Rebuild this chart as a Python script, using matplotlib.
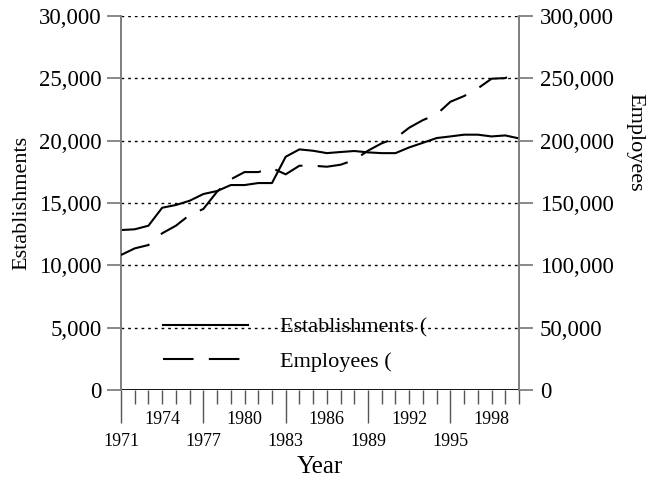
import matplotlib.pyplot as plt
from matplotlib.ticker import FixedLocator, FuncFormatter

plt.rcParams['font.family'] = ['Liberation Serif', 'DejaVu Serif']
plt.rcParams['lines.scale_dashes'] = False

years = list(range(1971, 2001))
establishments = [12830, 12890, 13180, 14620, 14840, 15180, 15720, 15960, 16440, 16440,
                  16600, 16600, 18710, 19300, 19190, 19000, 19090, 19170, 19060, 19000,
                  19000, 19460, 19830, 20210, 20340, 20480, 20480, 20340, 20420, 20180]
employees = [108300, 113600, 116300, 125700, 131800, 140400, 145200, 159100, 169000, 174800,
             174800, 178000, 173000, 179900, 179900, 179100, 180700, 184500, 192000, 197900,
             201900, 210400, 216500, 221100, 231200, 235800, 241900, 249700, 250200, 255900]

major_years = [1971, 1977, 1983, 1989, 1995]
upper_labels = [1974, 1980, 1986, 1992, 1998]

fig = plt.figure(figsize=(6.55, 4.78), dpi=100)
ax = fig.add_axes([121 / 655, 1 - 390 / 478, 398 / 655, 374 / 478])
ax2 = ax.twinx()

# dotted grid drawn by hand at each 5,000
for v in range(5000, 30001, 5000):
    ax.axhline(v, color='black', lw=1, linestyle=(0, (2, 2.8)), zorder=1)
ax.axhline(0, color='black', lw=1.3, zorder=2)

l1, = ax.plot(years, establishments, color='black', lw=1.5, zorder=3,
              label='Establishments (')
l2, = ax2.plot(years, employees, color='black', lw=1.5, dashes=(22, 11), zorder=3,
               label='Employees (')

ax.set_xlim(1971, 2000)
ax.set_ylim(0, 30000)
ax2.set_ylim(0, 300000)
ax.set_yticks(range(0, 30001, 5000))
ax2.set_yticks(range(0, 300001, 50000))
fmt = FuncFormatter(lambda v, p: f'{int(v):,}')
ax.yaxis.set_major_formatter(fmt)
ax2.yaxis.set_major_formatter(fmt)

ax.set_xticks(major_years)
ax.set_xticklabels([str(y) for y in major_years])
minor = [y for y in years if y not in major_years]
ax.xaxis.set_minor_locator(FixedLocator(minor))
ax.xaxis.set_minor_formatter(FuncFormatter(lambda v, p: str(int(round(v))) if int(round(v)) in upper_labels else ''))
ax.tick_params(axis='x', which='major', length=24, width=1, color='#555555', pad=7, labelsize=13)
ax.tick_params(axis='x', which='minor', length=10, width=1, color='#555555', pad=5, labelsize=13)

for sp in ['top', 'bottom']:
    ax.spines[sp].set_visible(False)
    ax2.spines[sp].set_visible(False)
for a in (ax, ax2):
    a.spines['left'].set_color('#808080')
    a.spines['right'].set_color('#808080')
    a.spines['left'].set_linewidth(1.3)
    a.spines['right'].set_linewidth(1.3)
ax.tick_params(axis='y', length=10, width=1.3, color='#808080', labelsize=16.5, pad=4)
ax2.tick_params(axis='y', length=10, width=1.3, color='#808080', labelsize=16.5, pad=5)

ax.set_xlabel('Year', fontsize=18, labelpad=4)
ax.set_ylabel('Establishments', fontsize=16)
ax.yaxis.set_label_coords(-0.226, 0.5)
ax2.set_ylabel('Employees', fontsize=16, rotation=270, va='center')
ax2.yaxis.set_label_coords(1.292, 0.663)

ax.legend(handles=[l1, l2], loc='lower left', bbox_to_anchor=(0.055, -0.005),
          frameon=False, fontsize=16, handlelength=3.83, handletextpad=1.44,
          labelspacing=0.63)

fig.savefig('out.png', dpi=100)
